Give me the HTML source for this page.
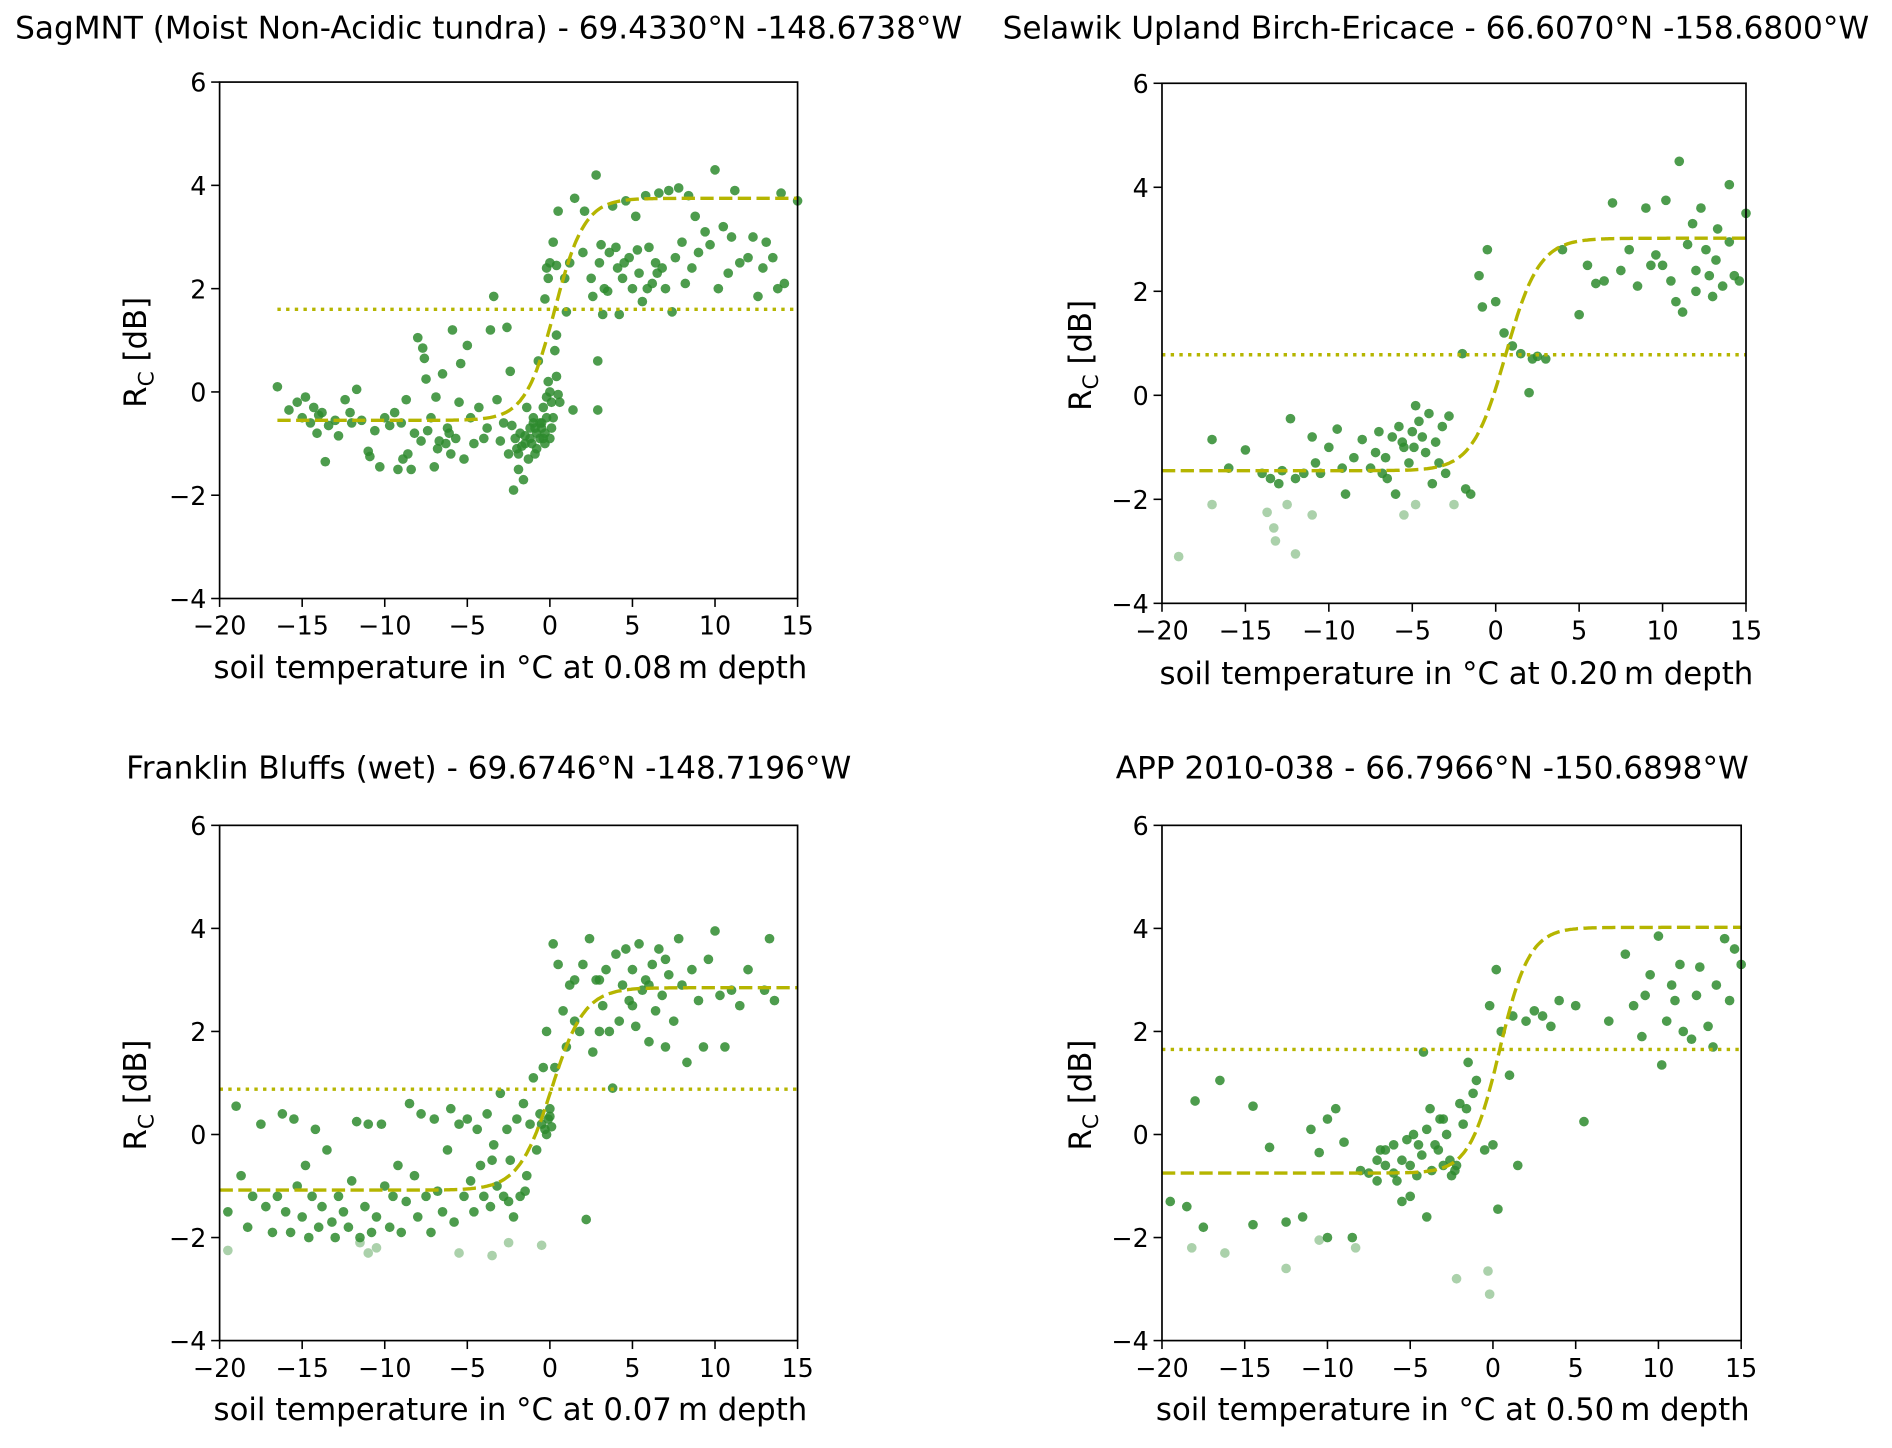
<!DOCTYPE html>
<html><head><meta charset="utf-8"><style>
html,body{margin:0;padding:0;background:#fff;}
svg{display:block;font-family:"DejaVu Sans","Liberation Sans",sans-serif;}
</style></head><body>
<svg id="fig" width="1892" height="1448" viewBox="0 0 1568 1200" xmlns="http://www.w3.org/2000/svg"></svg>
<script>
// ---- data ----
const xTicks = [-20,-15,-10,-5,0,5,10,15];
const yTicks = [-4,-2,0,2,4,6];
const titles = ["SagMNT (Moist Non-Acidic tundra) - 69.4330°N -148.6738°W","Selawik Upland Birch-Ericace - 66.6070°N -158.6800°W","Franklin Bluffs (wet) - 69.6746°N -148.7196°W","APP 2010-038 - 66.7966°N -150.6898°W"];
const depths = ["0.08","0.20","0.07","0.50"];
const fitLower = [-0.55,-1.45,-1.08,-0.75];
const fitUpper = [3.75,3.02,2.85,4.02];
const fitCenter = [0.3,0.6,0.1,0.4];
const fitWidth = [0.9,1.0,1.0,0.9];
const fitStart = [-16.5,-20,-20,-20];
const thresholds = [1.6,0.78,0.88,1.65];
const pts1 = [[-16.5,0.1],[-15.8,-0.35],[-15.3,-0.2],[-15,-0.5],[-14.8,-0.1],[-14.5,-0.6],[-14.3,-0.3],[-14.1,-0.8],[-13.8,-0.4],[-13.6,-1.35],[-13.4,-0.65],[-13,-0.55],[-12.8,-0.85],[-12.4,-0.15],[-12.1,-0.4],[-11.7,0.05],[-11.4,-0.55],[-11,-1.15],[-10.9,-1.25],[-10.6,-0.75],[-10.3,-1.45],[-10,-0.5],[-9.7,-0.65],[-9.4,-0.4],[-9,-0.6],[-9.2,-1.5],[-8.9,-1.3],[-8.7,-0.15],[-8.6,-1.2],[-8.4,-1.5],[-8.2,-0.8],[-8,1.05],[-7.7,0.85],[-7.6,0.65],[-7.5,0.25],[-7.4,-0.75],[-7.2,-0.5],[-7,-1.45],[-6.9,-0.1],[-6.7,-0.95],[-6.5,0.35],[-6.3,-1.0],[-6.2,-0.7],[-6,-1.2],[-5.9,1.2],[-5.7,-0.9],[-5.5,-0.2],[-5.4,0.55],[-5.2,-1.3],[-5,0.9],[-4.8,-0.5],[-4.6,-1.0],[-4.3,-0.3],[-4,-0.9],[-3.8,-0.7],[-3.6,1.2],[-3.4,1.85],[-3.2,-0.15],[-3,-0.95],[-2.8,-0.6],[-2.6,1.25],[-2.4,0.4],[-2.3,-0.65],[-2.2,-1.9],[-2,-1.1],[-1.9,-1.5],[-1.8,-0.8],[-1.6,-1.7],[-1.5,-1.0],[-1.4,-0.3],[-1.3,-1.3],[-1.2,-0.7],[-1.1,-1.0],[-1,-0.5],[-0.9,-1.2],[-0.8,-0.8],[-0.7,0.6],[-0.6,-0.9],[-0.5,-0.6],[-0.4,-0.3],[-0.3,-1.0],[-0.2,-0.1],[-0.1,0.2],[0,0.0],[0.1,-0.2],[0.2,-0.5],[0.3,0.8],[0.4,0.3],[0.5,-0.05],[0.6,-0.2],[-1.0,-0.6],[-1.5,-0.85],[-2.5,-1.2],[-0.5,-0.7],[-0.2,-0.5],[0.1,-0.7],[-7.8,-0.95],[-6.8,-1.1],[-6.1,-0.8],[-2.1,-0.9],[-1.7,-1.05],[-0.8,-1.1],[-0.3,-0.8],[0,-0.9],[-12,-0.6],[-14,-0.45],[-1.2,-0.9],[-0.6,-0.6],[-1.9,-1.2],[-0.9,-0.7],[-0.4,-0.9],
[-0.3,1.8],[-0.1,2.2],[0,2.5],[-0.2,2.4],[0.2,2.9],[0.5,3.5],[0.4,2.45],[0.9,2.2],[1,1.55],[1.2,2.5],[1.5,3.75],[2,2.7],[2.1,3.5],[2.5,2.2],[2.6,1.85],[2.8,4.2],[3,2.5],[3.1,2.85],[3.3,2.0],[3.5,1.95],[3.8,3.6],[4,2.8],[4.2,1.5],[4.4,2.2],[4.6,3.7],[4.8,2.6],[5,2.0],[5.2,3.4],[5.4,2.3],[5.6,1.75],[5.8,3.8],[6,2.8],[6.2,2.1],[6.4,2.5],[6.6,3.85],[6.8,2.4],[7,2.0],[7.2,3.9],[7.4,1.55],[7.6,2.6],[7.8,3.95],[8,2.9],[8.2,2.1],[8.4,3.8],[8.6,2.4],[8.8,3.4],[9,2.7],[9.4,3.1],[9.7,2.85],[10,4.3],[10.2,2.0],[10.5,3.2],[10.8,2.3],[11,3.0],[11.2,3.9],[11.5,2.5],[12,2.6],[12.3,3.0],[12.6,1.85],[12.9,2.4],[13.1,2.9],[13.5,2.6],[13.8,2.0],[14,3.85],[14.2,2.1],[15,3.7],[2.9,0.6],[2.9,-0.35],[1.4,-0.35],[0.4,1.1],[3.6,2.7],[4.5,2.5],[5.3,2.75],[6.5,2.3],[3.2,1.5],[5.9,2.0],[4.1,2.4]];
const pale1 = [];
const pts2 = [[-17,-0.85],[-16,-1.4],[-15,-1.05],[-14,-1.5],[-13.5,-1.6],[-13,-1.7],[-12.8,-1.45],[-12.3,-0.45],[-12,-1.6],[-11.5,-1.5],[-11,-0.8],[-10.8,-1.3],[-10.5,-1.5],[-10,-1.0],[-9.5,-0.65],[-9.2,-1.4],[-9,-1.9],[-8.5,-1.2],[-8,-0.85],[-7.5,-1.4],[-7.2,-1.1],[-7,-0.7],[-6.8,-1.5],[-6.5,-1.6],[-6.2,-0.8],[-6,-1.9],[-5.8,-0.6],[-5.5,-1.0],[-5.2,-1.3],[-5,-0.7],[-4.8,-0.2],[-4.6,-0.5],[-4.4,-0.8],[-4.2,-1.1],[-4,-0.35],[-3.8,-1.7],[-3.6,-0.9],[-3.4,-1.3],[-3.2,-0.6],[-3,-1.5],[-2.8,-0.4],[-2,0.8],[-1.8,-1.8],[-1.5,-1.9],[-1,2.3],[-0.8,1.7],[-0.5,2.8],[0,1.8],[0.5,1.2],[1,0.95],[1.5,0.8],[2,0.05],[2.2,0.7],[2.5,0.75],[3,0.7],[4,2.8],[5,1.55],[5.5,2.5],[6,2.15],[6.5,2.2],[7,3.7],[7.5,2.4],[8,2.8],[8.5,2.1],[9,3.6],[9.3,2.5],[9.6,2.7],[10,2.5],[10.2,3.75],[10.5,2.2],[10.8,1.8],[11,4.5],[11.2,1.6],[11.5,2.9],[11.8,3.3],[12,2.0],[12.3,3.6],[12.6,2.8],[12.8,2.3],[13,1.9],[13.3,3.2],[13.6,2.1],[14,4.05],[14.3,2.3],[14.6,2.2],[15,3.5],[12,2.4],[13.2,2.6],[14,2.95],[-5.6,-0.9],[-4.9,-1.0],[-6.6,-1.2]];
const pale2 = [[-19,-3.1],[-17,-2.1],[-13.7,-2.25],[-13.3,-2.55],[-13.2,-2.8],[-12.5,-2.1],[-12,-3.05],[-11,-2.3],[-4.8,-2.1],[-5.5,-2.3],[-2.5,-2.1]];
const pts3 = [[-19.5,-1.5],[-19,0.55],[-18.7,-0.8],[-18.3,-1.8],[-18,-1.2],[-17.5,0.2],[-17.2,-1.4],[-16.8,-1.9],[-16.5,-1.2],[-16.2,0.4],[-16,-1.5],[-15.7,-1.9],[-15.5,0.3],[-15.3,-1.0],[-15,-1.6],[-14.8,-0.6],[-14.6,-2.0],[-14.4,-1.2],[-14.2,0.1],[-14,-1.8],[-13.8,-1.4],[-13.5,-0.3],[-13.2,-1.7],[-13,-2.0],[-12.8,-1.2],[-12.5,-1.5],[-12.2,-1.8],[-12,-0.9],[-11.7,0.25],[-11.5,-2.0],[-11.2,-1.4],[-11,0.2],[-10.8,-1.9],[-10.5,-1.6],[-10.2,0.2],[-10,-1.0],[-9.7,-1.8],[-9.5,-1.2],[-9.2,-0.6],[-9,-1.9],[-8.7,-1.3],[-8.5,0.6],[-8.2,-0.8],[-8,-1.6],[-7.8,0.4],[-7.5,-1.2],[-7.2,-1.9],[-7,0.3],[-6.8,-1.1],[-6.5,-1.5],[-6.2,-0.3],[-6,0.5],[-5.8,-1.7],[-5.5,0.2],[-5.2,-1.2],[-5,0.3],[-4.8,-0.9],[-4.6,-1.5],[-4.4,0.1],[-4.2,-0.6],[-4,-1.2],[-3.8,0.4],[-3.6,-1.4],[-3.4,-0.2],[-3.2,-1.0],[-3,0.8],[-2.8,-1.2],[-2.6,0.1],[-2.4,-0.5],[-2.2,-1.6],[-2,0.3],[-1.8,-1.2],[-1.6,0.6],[-1.4,-0.8],[-1.2,0.2],[-1,1.1],[-0.8,-0.3],[-0.6,0.4],[-0.4,1.3],[-0.3,0.1],[-0.2,2.0],[-0.1,0.3],[0,0.5],[0.1,0.15],[0.2,3.7],[0.3,1.3],[0.5,3.3],[0.8,2.4],[1,1.7],[1.2,2.9],[1.5,3.0],[1.8,2.0],[2,3.3],[2.2,-1.65],[2.4,3.8],[2.6,1.6],[2.8,3.0],[3,2.0],[3.2,2.5],[3.4,3.2],[3.6,2.0],[3.8,0.9],[4,3.5],[4.2,2.2],[4.4,2.9],[4.6,3.6],[4.8,2.6],[5,3.2],[5.2,2.1],[5.4,3.7],[5.6,2.8],[5.8,3.0],[6,1.8],[6.2,3.3],[6.4,2.4],[6.6,3.6],[6.8,2.7],[7,1.7],[7.2,3.1],[7.5,2.2],[7.8,3.8],[8,2.9],[8.3,1.4],[8.6,3.2],[9,2.6],[9.3,1.7],[9.6,3.4],[10,3.95],[10.3,2.7],[10.6,1.7],[11,2.8],[11.5,2.5],[12,3.2],[13,2.8],[13.3,3.8],[13.6,2.6],[-0.5,0.2],[-0.2,0.0],[0,0.35],[-1.5,-1.1],[-2.5,-1.3],[-3.5,-0.5],[1.5,2.2],[3,3.0],[5,2.5],[6,2.9],[7,3.4]];
const pale3 = [[-19.5,-2.25],[-11,-2.3],[-10.5,-2.2],[-5.5,-2.3],[-3.5,-2.35],[-2.5,-2.1],[-0.5,-2.15],[-11.5,-2.1]];
const pts4 = [[-19.5,-1.3],[-18.5,-1.4],[-18,0.65],[-17.5,-1.8],[-16.5,1.05],[-14.5,0.55],[-14.5,-1.75],[-13.5,-0.25],[-12.5,-1.7],[-11.5,-1.6],[-11,0.1],[-10.5,-0.35],[-10,-2.0],[-10,0.3],[-9.5,0.5],[-9,-0.15],[-8.5,-2.0],[-8,-0.7],[-7.5,-0.75],[-7,-0.5],[-6.5,-0.3],[-6,-0.75],[-5.5,-0.5],[-5,-1.2],[-4.5,-0.2],[-4.2,1.6],[-4,-1.6],[-3.8,0.5],[-3.5,-0.2],[-3.2,0.3],[-3,-0.6],[-2.5,-0.8],[-2,0.6],[-1.5,1.4],[-1,1.05],[-0.5,-0.3],[0,-0.2],[0.2,3.2],[0.3,-1.45],[0.5,2.0],[1,1.15],[1.5,-0.6],[2,2.2],[2.5,2.4],[3,2.3],[4,2.6],[5,2.5],[5.5,0.25],[7,2.2],[8,3.5],[8.5,2.5],[9,1.9],[9.2,2.7],[9.5,3.1],[10,3.85],[10.2,1.35],[10.5,2.2],[10.8,2.9],[11,2.6],[11.3,3.3],[11.5,2.0],[12,1.85],[12.3,2.7],[12.5,3.25],[13,2.1],[13.3,1.7],[13.5,2.9],[14,3.8],[14.3,2.6],[14.6,3.6],[15,3.3],[-7,-0.9],[-6.5,-0.6],[-6,-0.2],[-5.8,-0.9],[-5.2,-0.1],[-5,-0.6],[-4.8,0.0],[-4.6,-0.8],[-4.3,-0.4],[-4,0.1],[-3.7,-0.7],[-3.3,-0.3],[-2.8,0.0],[-2.6,-0.5],[-2.3,-0.7],[-1.8,0.2],[-1.2,0.8],[-5.5,-1.3],[-3,0.3],[-6.8,-0.3],[-2.2,-0.6],[-0.2,2.5],[1.2,2.3],[3.5,2.1],[-1.6,0.5]];
const pale4 = [[-18.2,-2.2],[-16.2,-2.3],[-12.5,-2.6],[-10.5,-2.05],[-8.3,-2.2],[-2.2,-2.8],[-0.3,-2.65],[-0.2,-3.1]];
const allPts = [pts1,pts2,pts3,pts4];
const allPale = [pale1,pale2,pale3,pale4];

const panels = [
 {l:182,r:661,t:68,b:496,tx:405,ty:30,xl:423,xly:553,yl:112},
 {l:963,r:1447,t:69,b:500,tx:1190,ty:30,xl:1207,xly:558,yl:895},
 {l:182,r:661,t:684,b:1111,tx:405,ty:643,xl:423,xly:1168,yl:112},
 {l:963,r:1443,t:684,b:1111,tx:1187,ty:643,xl:1204,xly:1168,yl:895}
];
const NS="http://www.w3.org/2000/svg";
const svg=document.getElementById('fig');
function mk(tag,attrs,parent){const e=document.createElementNS(NS,tag);for(const k in attrs)e.setAttribute(k,attrs[k]);(parent||svg).appendChild(e);return e;}
const fmt=v=>v<0?'\u2212'+Math.abs(v):String(v);

panels.forEach((p,i)=>{
  const g=mk('g',{});
  
  
  const sx=v=>p.l+(v+20)/35*(p.r-p.l);
  const sy=v=>p.b-(v+4)/10*(p.b-p.t);
  const title=mk('text',{x:p.tx,y:p.ty+2,'text-anchor':'middle','font-size':25.8,fill:'#000'},g);
  title.textContent=titles[i];
  
  
  allPale[i].forEach(d=>{const c=mk('circle',{cx:sx(d[0]),cy:sy(d[1]),r:4,fill:'#2e8b2e','fill-opacity':0.4},g);
    
    });
  allPts[i].forEach(d=>{const c=mk('circle',{cx:sx(d[0]),cy:sy(d[1]),r:4,fill:'#2e8b2e','fill-opacity':0.85},g);
    
    });
  let dpath='';
  for(let x=fitStart[i];x<=15.001;x+=0.1){
    const y=fitLower[i]+(fitUpper[i]-fitLower[i])/(1+Math.exp(-(x-fitCenter[i])/fitWidth[i]));
    dpath+=(dpath?'L':'M')+sx(x).toFixed(1)+','+sy(y).toFixed(1);
  }
  const fit=mk('path',{d:dpath,fill:'none',stroke:'#b5b500','stroke-width':2.8,'stroke-dasharray':'11,4.5'},g);
  
  
  const th=mk('line',{x1:sx(fitStart[i]),x2:sx(15),y1:sy(thresholds[i]),y2:sy(thresholds[i]),stroke:'#b5b500','stroke-width':2.8,'stroke-dasharray':'2.8,4.4'},g);
  
  
  const fr=mk('rect',{x:p.l,y:p.t,width:p.r-p.l,height:p.b-p.t,fill:'none',stroke:'#000','stroke-width':1.4},g);
  
  
  xTicks.forEach(v=>{
    mk('line',{x1:sx(v),x2:sx(v),y1:p.b,y2:p.b+7,stroke:'#000','stroke-width':1.3},g);
    const t=mk('text',{x:sx(v),y:p.b+30,'text-anchor':'middle','font-size':21},g);
    t.textContent=fmt(v);
    
    
  });
  yTicks.forEach(v=>{
    mk('line',{x1:p.l-7,x2:p.l,y1:sy(v),y2:sy(v),stroke:'#000','stroke-width':1.3},g);
    const t=mk('text',{x:p.l-11,y:sy(v)+8,'text-anchor':'end','font-size':21},g);
    t.textContent=fmt(v);
    
    
  });
  const xl=mk('text',{x:p.xl,y:p.xly+9,'text-anchor':'middle','font-size':25.5},g);
  xl.textContent='soil temperature in °C at '+depths[i]+'\u2009m depth';
  
  
  const cy=(p.t+p.b)/2;
  const yl=mk('text',{x:0,y:0,'text-anchor':'middle','font-size':25.5,transform:`translate(${p.yl+9},${cy+10}) rotate(-90)`},g);
  yl.innerHTML='R<tspan font-size="18" dy="6">C</tspan><tspan dy="-6"> [dB]</tspan>';
  
  
});
</script>
</body></html>
